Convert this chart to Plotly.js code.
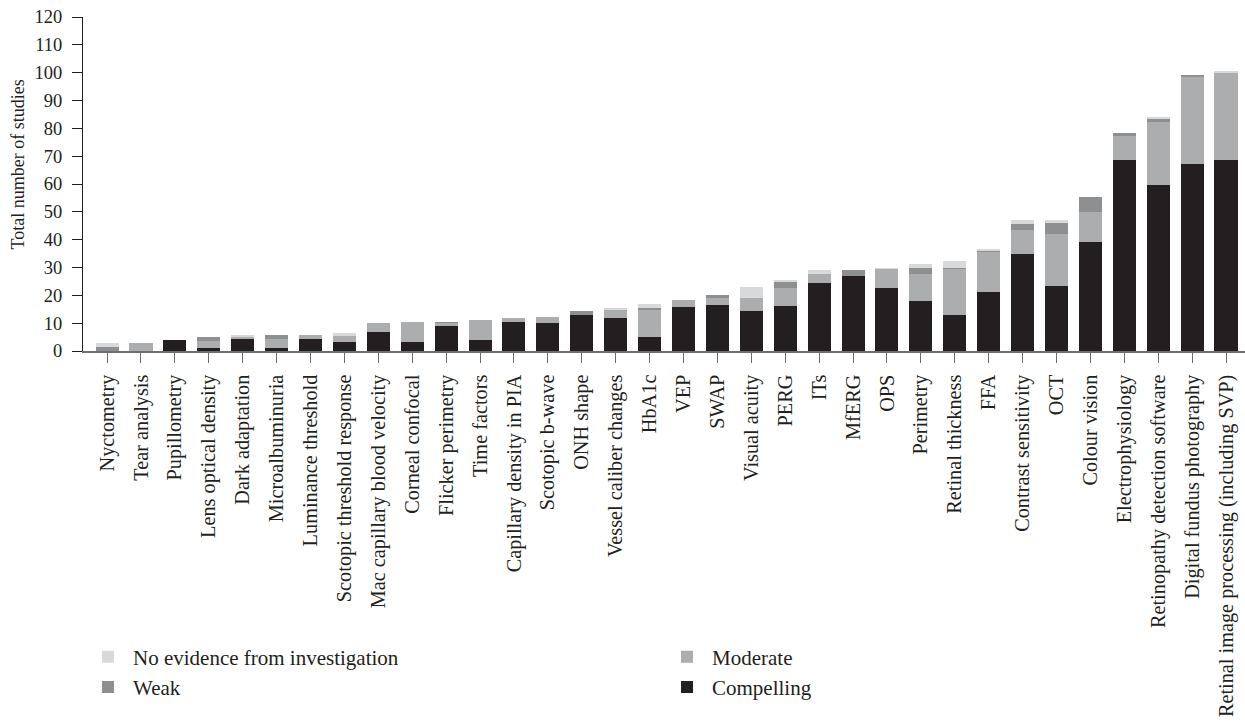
<!DOCTYPE html>
<html>
<head>
<meta charset="utf-8">
<script src="https://cdn.plot.ly/plotly-3.0.1.min.js"></script>
<style>
  html, body { margin: 0; padding: 0; background: #fff; }
  #chart { width: 1245px; height: 728px; }
</style>
</head>
<body>
<div id="chart"></div>
<script>
const categories = [
  "Nyctometry", "Tear analysis", "Pupillometry", "Lens optical density", "Dark adaptation",
  "Microalbuminuria", "Luminance threshold", "Scotopic threshold response",
  "Mac capillary blood velocity", "Corneal confocal", "Flicker perimetry", "Time factors",
  "Capillary density in PIA", "Scotopic b-wave", "ONH shape", "Vessel caliber changes",
  "HbA1c", "VEP", "SWAP", "Visual acuity", "PERG", "ITs", "MfERG", "OPS", "Perimetry",
  "Retinal thickness", "FFA", "Contrast sensitivity", "OCT", "Colour vision",
  "Electrophysiology", "Retinopathy detection software", "Digital fundus photography",
  "Retinal image processing (including SVP)"
];

const compelling = [0, 0, 3.8, 1.2, 4.4, 1.2, 4.4, 3.3, 6.9, 3.2, 8.9, 3.8, 10.6, 9.9, 12.8, 11.7,
  4.9, 15.7, 16.7, 14.2, 16.0, 24.6, 26.8, 22.8, 17.8, 12.8, 21.1, 35.0, 23.2, 39.0,
  68.8, 59.8, 67.3, 68.8];
const moderate = [0, 3.0, 0, 2.5, 0.7, 3.2, 1.4, 2.2, 3.2, 7.1, 1.1, 7.5, 1.4, 2.2, 0, 3.2,
  10.0, 2.5, 2.2, 5.0, 6.5, 3.2, 0, 6.5, 10.0, 16.5, 14.4, 8.3, 19.0, 11.1,
  8.6, 22.4, 31.2, 31.2];
const weak = [1.6, 0, 0, 1.4, 0, 1.4, 0, 0, 0, 0, 0.4, 0, 0, 0, 1.4, 0,
  0.7, 0, 1.1, 0, 2.2, 0, 2.2, 0, 2.2, 0.7, 0.4, 2.5, 3.9, 5.4,
  1.1, 1.0, 0.7, 0];
const noEvidence = [1.4, 0, 0, 0, 0.7, 0, 0, 1.1, 0, 0, 0, 0, 0, 0, 0, 0.4,
  1.4, 0, 0, 3.9, 0.7, 1.4, 0, 0.7, 1.1, 2.2, 0.7, 1.4, 1.1, 0,
  0, 0.7, 0, 0.7];

const yTicks = [0, 10, 20, 30, 40, 50, 60, 70, 80, 90, 100, 110, 120];
const yTitle = "Total number of studies";

const COL = {
  compelling: "#231f20",
  moderate: "#acadaf",
  weak: "#8e8f91",
  noev: "#d8d9da"
};
const FONT = "Liberation Serif, Times New Roman, serif";
const TXT = "#231f20";

function bar(name, y, color, legendId) {
  return {
    type: "bar", name: name, x: categories, y: y,
    marker: { color: color, line: { width: 0 } },
    legend: legendId, hoverinfo: "x+y+name"
  };
}

const data = [
  bar("Compelling", compelling, COL.compelling, "legend2"),
  bar("Moderate", moderate, COL.moderate, "legend2"),
  bar("Weak", weak, COL.weak, "legend"),
  bar("No evidence from investigation", noEvidence, COL.noev, "legend")
];

const legendCommon = {
  orientation: "v",
  yanchor: "top",
  xanchor: "left",
  itemwidth: 40,
  traceorder: "reversed",
  tracegroupgap: 0,
  font: { family: FONT, size: 21, color: TXT },
  bgcolor: "rgba(0,0,0,0)",
  borderwidth: 0
};

const layout = {
  width: 1245, height: 728,
  margin: { l: 83, r: 0, t: 17, b: 377, pad: 0, autoexpand: false },
  barmode: "stack",
  bargap: 0.32,
  paper_bgcolor: "#fff",
  plot_bgcolor: "#fff",
  font: { family: FONT, size: 16, color: TXT },
  xaxis: {
    type: "category",
    range: [-0.71, 33.56],
    tickangle: -90,
    ticks: "outside", ticklen: 10, tickwidth: 1, tickcolor: "#6d6e71",
    ticklabelstandoff: 4,
    showline: true, linecolor: "#6d6e71", linewidth: 1.5,
    showgrid: false, zeroline: false,
    tickfont: { family: FONT, size: 20.3, color: TXT },
    automargin: false
  },
  yaxis: {
    range: [0, 120],
    tickvals: yTicks,
    ticktext: yTicks.map(String),
    ticks: "outside", ticklen: 10, tickwidth: 1, tickcolor: "#231f20",
    ticklabelstandoff: 6,
    showline: true, linecolor: "#231f20", linewidth: 1,
    showgrid: false, zeroline: false,
    tickfont: { family: FONT, size: 18.5, color: TXT },
    automargin: false
  },
  annotations: [{
    text: yTitle,
    xref: "paper", yref: "paper",
    x: -0.056, y: 0.558,
    xanchor: "center", yanchor: "middle",
    textangle: -90,
    showarrow: false,
    font: { family: FONT, size: 18, color: TXT }
  }],
  legend: Object.assign({}, legendCommon, { x: 0, y: -0.855 }),
  legend2: Object.assign({}, legendCommon, { x: 0.4983, y: -0.855 }),
  showlegend: true
};

Plotly.newPlot("chart", data, layout, { displayModeBar: false, staticPlot: true });
</script>
</body>
</html>
